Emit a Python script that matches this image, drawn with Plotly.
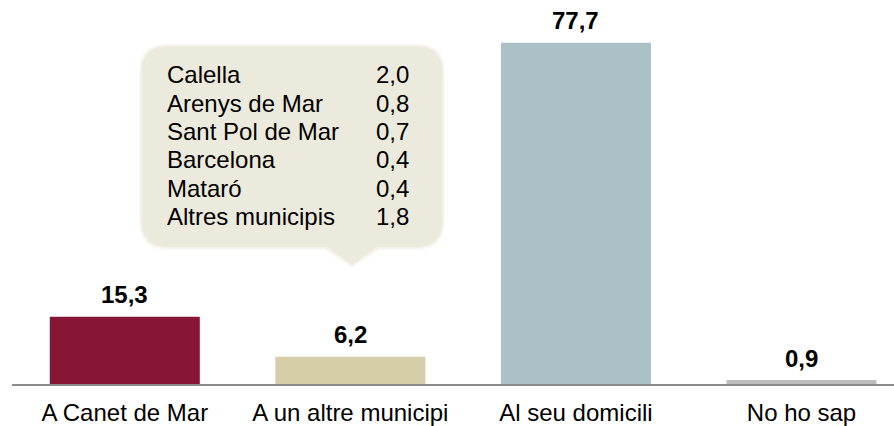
import plotly.graph_objects as go

categories = ["A Canet de Mar", "A un altre municipi", "Al seu domicili", "No ho sap"]
values = [15.3, 6.2, 77.7, 0.9]
bar_colors = ["#871636", "#D6CDA9", "#ABC1C7", "#BDBDBD"]

detail_names = ["Calella", "Arenys de Mar", "Sant Pol de Mar", "Barcelona", "Mataró", "Altres municipis"]
detail_values = [2.0, 0.8, 0.7, 0.4, 0.4, 1.8]

W, H = 894, 426
ML, MR, MT, MB = 12, 0, 0, 40
PW = W - ML - MR
PH = H - MT - MB

def px(x):
    return (x - ML) / PW

def py(y):
    return (H - MB - y) / PH

def fmt(v):
    return f"{v:.1f}".replace(".", ",")

FONT = "Liberation Sans, Arial, sans-serif"
FS = 24

fig = go.Figure()
fig.add_trace(go.Bar(
    x=categories, y=values, marker=dict(color=bar_colors, line=dict(width=0)),
    width=0.665, hoverinfo="skip"
))

annotations = []
for c, v in zip(categories, values):
    annotations.append(dict(
        x=c, y=v, xref="x", yref="y", text="<b>" + fmt(v) + "</b>",
        showarrow=False, yanchor="middle", xanchor="center", yshift=22,
        font=dict(family=FONT, size=FS, color="#000000")
    ))

# callout box
x0, x1, y0, y1, r = 142, 442, 47, 248, 26
tl, tr, tip = 327, 377, (352, 266)

def callout_path(x0, x1, y0, y1, r, tl, tr, tip):
    p = f"M {px(x0 + r)},{py(y0)} L {px(x1 - r)},{py(y0)} "
    p += f"Q {px(x1)},{py(y0)} {px(x1)},{py(y0 + r)} "
    p += f"L {px(x1)},{py(y1 - r)} "
    p += f"Q {px(x1)},{py(y1)} {px(x1 - r)},{py(y1)} "
    p += f"L {px(tr)},{py(y1)} L {px(tip[0])},{py(tip[1])} L {px(tl)},{py(y1)} "
    p += f"L {px(x0 + r)},{py(y1)} "
    p += f"Q {px(x0)},{py(y1)} {px(x0)},{py(y1 - r)} "
    p += f"L {px(x0)},{py(y0 + r)} "
    p += f"Q {px(x0)},{py(y0)} {px(x0 + r)},{py(y0)} Z"
    return p

shapes = []
for grow, col, op in [(3, "#F3F1EA", 0.5), (1.5, "#EFEDE3", 0.7), (0, "#ECE9DD", 1.0)]:
    shapes.append(dict(
        type="path", xref="paper", yref="paper",
        path=callout_path(x0 - grow, x1 + grow, y0 - grow, y1 + grow, r + grow,
                          tl - grow, tr + grow, (tip[0], tip[1] + grow)),
        fillcolor=col, line=dict(width=0), layer="below", opacity=op))

row0, step = 75, 28.6
for i, (n, v) in enumerate(zip(detail_names, detail_values)):
    yy = row0 + i * step
    annotations.append(dict(
        x=px(165), y=py(yy), xref="paper", yref="paper", text=n,
        showarrow=False, xanchor="left", yanchor="middle",
        font=dict(family=FONT, size=FS, color="#000000")
    ))
    annotations.append(dict(
        x=px(411), y=py(yy), xref="paper", yref="paper", text=fmt(v),
        showarrow=False, xanchor="right", yanchor="middle",
        font=dict(family=FONT, size=FS, color="#000000")
    ))

fig.update_layout(
    width=W, height=H,
    margin=dict(l=ML, r=MR, t=MT, b=MB, pad=0),
    paper_bgcolor="#FFFFFF", plot_bgcolor="rgba(0,0,0,0)",
    showlegend=False,
    annotations=annotations, shapes=shapes,
)
fig.update_xaxes(
    type="category", range=[-0.5, 3.41], showline=True, linecolor="#8C8C8C",
    linewidth=1.5, ticks="", showgrid=False, zeroline=False,
    tickfont=dict(family=FONT, size=FS, color="#000000"), ticklabelstandoff=6,
)
fig.update_yaxes(range=[0, 87.45], visible=False, showgrid=False, zeroline=False)

fig.write_html(
    "out.html",
    config={"displayModeBar": False},
    post_script="document.body.style.margin='0';document.body.style.overflow='hidden';",
)
